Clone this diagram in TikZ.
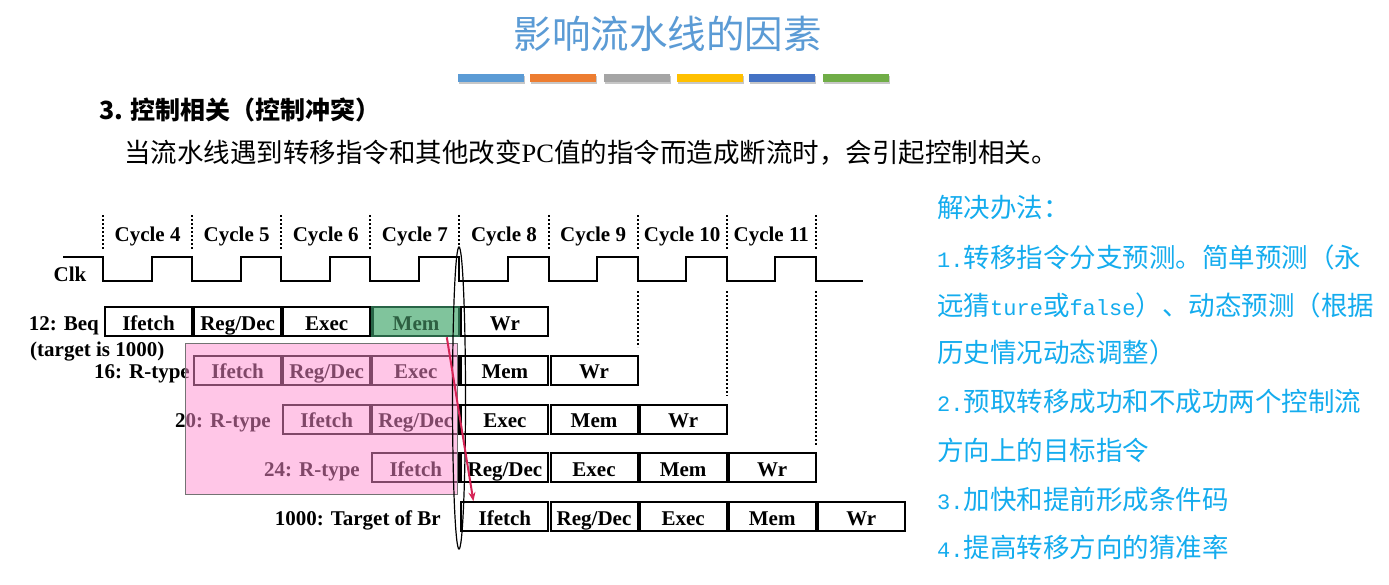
\documentclass[tikz,border=0pt]{standalone}
\usepackage{fontspec}
\newfontfamily\cjk{Noto Sans CJK SC}
\newfontfamily\tms{Liberation Serif}
\newfontfamily\hmono{Liberation Mono}[Scale=0.83]
\usetikzlibrary{arrows.meta}
\definecolor{titleblue}{RGB}{91,155,213}
\definecolor{barA}{RGB}{91,155,213}
\definecolor{barB}{RGB}{237,125,49}
\definecolor{barC}{RGB}{165,165,165}
\definecolor{barD}{RGB}{255,192,0}
\definecolor{barE}{RGB}{68,114,196}
\definecolor{barF}{RGB}{112,173,71}
\definecolor{noteblue}{RGB}{20,172,238}
\definecolor{squash}{RGB}{255,143,208}
\definecolor{memfill}{RGB}{128,196,156}
\definecolor{memedge}{RGB}{40,100,70}
\definecolor{memtext}{RGB}{45,95,65}
\definecolor{brred}{RGB}{214,36,86}

\begin{document}
\begin{tikzpicture}[x=1pt,y=-1pt,
  tm/.style={font=\tms\bfseries\fontsize{21}{21}\selectfont, inner sep=0pt, text height=17pt, text depth=0pt},
  stage/.style={tm, draw=black, line width=2pt, minimum width=87pt, minimum height=29pt, anchor=west},
  st13/.style={fill=memfill, draw=memedge, text=memtext, line width=2.5pt},
  note/.style={font=\cjk\fontsize{26.5}{26.5}\selectfont, text=noteblue, anchor=west, inner sep=0pt},
  tick/.style={line width=2pt, dash pattern=on 2pt off 2pt},
  clk/.style={line width=2pt, line join=miter}
]
\useasboundingbox (0,0) rectangle (1389,584);
\fill[white] (0,0) rectangle (1389,584);

% title and colour strip
\node[font=\cjk\fontsize{38.5}{38.5}\selectfont, text=titleblue, inner sep=0pt] (title) at (667.5,34) {影响流水线的因素};
\foreach \x/\c in {458/barA,530/barB,604/barC,677/barD,749/barE,823/barF} {
  \fill[black!22] (\x+1,76) rectangle (\x+67,84);
  \fill[\c] (\x,74) rectangle (\x+66,81.5);
}

% heading and introduction
\node[font=\cjk\bfseries\fontsize{25}{25}\selectfont, anchor=west, inner sep=0pt] (sec) at (99,109.5) {3. 控制相关（控制冲突）};
\node[font=\cjk\fontsize{26.5}{26.5}\selectfont, anchor=west, inner sep=0pt] (intro) at (124,153) {当流水线遇到转移指令和其他改变{\tms PC}值的指令而造成断流时，会引起控制相关。};

% cycle boundaries and labels
\foreach \k in {0,...,8} {
  \draw[tick] ({103+89.1*\k},215) -- ({103+89.1*\k},250);
}
\foreach \k [evaluate=\k as \n using int(\k+4)] in {0,...,7} {
  \node[tm] (cyc\n) at ({147.55+89.1*\k},233) {Cycle \n};
}
\draw[tick] (637.6,291) -- (637.6,347);
\draw[tick] (726.7,291) -- (726.7,396);
\draw[tick] (815.8,291) -- (815.8,445);

% clock
\node[tm] (clk) at (70,273) {Clk};
\draw[clk] (63,257) foreach \k in {0,...,7} {
  -- ({103+89.1*\k},257) -- ({103+89.1*\k},281)
  -- ({151.5+89.1*\k},281) -- ({151.5+89.1*\k},257) }
  -- (815.8,257) -- (815.8,281) -- (863,281);

% pipeline stages
\foreach \r in {1,...,5} {
  \foreach \s [count=\i from 0] in {Ifetch,Reg/Dec,Exec,Mem,Wr} {
    \pgfmathsetmacro\xx{103+89.1*(\r-1+\i)+1}
    \pgfmathsetmacro\yy{321.5+48.8*(\r-1)}
    \node[stage, st\r\i/.try] (r\r s\i) at (\xx,\yy) {\s};
  }
}

% instruction labels
\node[tm, anchor=east] (lbl1) at (99,321.5) {12: Beq};
\node[tm, anchor=west] (tgt) at (30,348) {(target is 1000)};
\node[tm, anchor=east] (lbl2) at (190,370.3) {16: R-type};
\node[tm, anchor=east] (lbl3) at (271,419.1) {20: R-type};
\node[tm, anchor=east] (lbl4) at (360,467.9) {24: R-type};
\node[tm, anchor=east] (lbl5) at (441,516.7) {1000: Target of Br};

% squashed instructions
\fill[squash, fill opacity=0.5] (185,343) rectangle (457.5,494);
\draw[black!55, line width=1pt] (185,343) rectangle (457.5,494);

% branch resolution
\draw[line width=1.2pt] (459,398) ellipse [x radius=6.5pt, y radius=151pt];
\coordinate (brsrc) at ([xshift=-14pt]r1s3.south east);
\coordinate (brdst) at ([xshift=13pt]r5s0.north west);
\draw[brred, line width=2pt, -{Stealth[length=9pt,width=7pt]}] (brsrc) -- (brdst);

% remedies
\node[note] (sol) at (937,207) {解决办法：};
\node[note] (n1a) at (937,257) {{\hmono 1.}转移指令分支预测。简单预测（永};
\node[note] (n1b) at (937,305) {远猜{\hmono ture}或{\hmono false}）、动态预测（根据};
\node[note] (n1c) at (937,352) {历史情况动态调整）};
\node[note] (n2a) at (937,402) {{\hmono 2.}预取转移成功和不成功两个控制流};
\node[note] (n2b) at (937,450) {方向上的目标指令};
\node[note] (n3) at (937,499) {{\hmono 3.}加快和提前形成条件码};
\node[note] (n4) at (937,547) {{\hmono 4.}提高转移方向的猜准率};
\end{tikzpicture}
\end{document}
